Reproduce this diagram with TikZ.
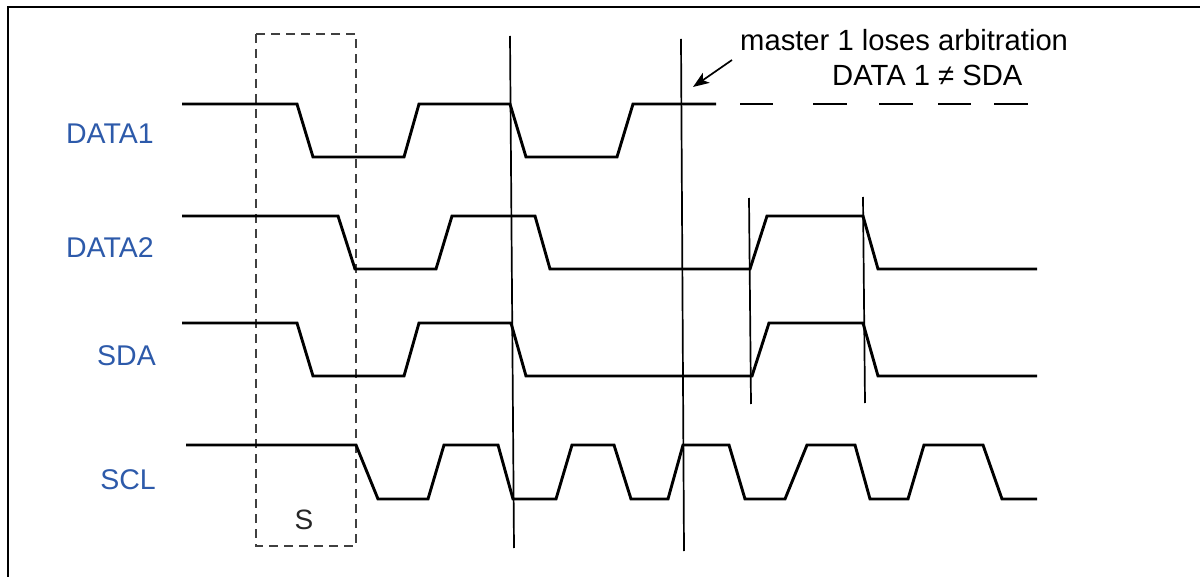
\documentclass[tikz,border=0pt]{standalone}
\usepackage{fontspec}
\setmainfont{Liberation Sans}
\usetikzlibrary{arrows.meta}
\definecolor{lblblue}{RGB}{45,90,170}
\begin{document}
\begin{tikzpicture}[x=1pt,y=-1pt,
  wave/.style={line width=2.9pt, line join=miter},
  marker/.style={line width=1.7pt},
  lbl/.style={text=lblblue, font=\fontsize{28.5}{33}\selectfont, anchor=base east, inner sep=0pt},
  note/.style={font=\fontsize{29.2}{34}\selectfont, inner sep=0pt, anchor=base west},
  sbox/.style={draw=black!75, line width=1.5pt, dash pattern=on 9pt off 6pt},
  frame/.style={line width=2.2pt}]
\useasboundingbox (0,0) rectangle (1200,577);
% frame
\draw[frame] (8,577) -- (8,7) -- (1200,7);
% signal labels
\node[lbl] (ld1) at (154,144) {DATA1};
\node[lbl] (ld2) at (154,258) {DATA2};
\node[lbl] (lsda) at (156,366) {SDA};
\node[lbl] (lscl) at (156,489) {SCL};
% start condition box
\draw[sbox] (256,34) rectangle (356,546);
\node[font=\fontsize{28}{33}\selectfont, inner sep=0pt, text=black!85] (s) at (304,520) {S};
% DATA1
\draw[wave] (182,104) -- (297,104) -- (313,157) -- (404,157) -- (419,104) -- (510,104)
  -- (526,157) -- (617,157) -- (633,104) -- (716,104);
\foreach \a/\b in {740/773, 813/847, 879/913, 938/971, 994/1028}
  \draw[wave] (\a,104) -- (\b,104);
% DATA2
\draw[wave] (182,216) -- (338,216) -- (355,269) -- (436,269) -- (452,216) -- (535,216)
  -- (550,269) -- (750,269) -- (767,216) -- (863,216) -- (878,269) -- (1037,269);
% SDA
\draw[wave] (182,323) -- (297,323) -- (313,376) -- (404,376) -- (419,323) -- (511,323)
  -- (526,376) -- (752,376) -- (769,323) -- (863,323) -- (878,376) -- (1037,376);
% SCL
\draw[wave] (186,445) -- (356,445) -- (378,499) -- (428,499) -- (444,445) -- (498,445)
  -- (513,499) -- (556,499) -- (572,445) -- (614,445) -- (631,499) -- (668,499)
  -- (683,445) -- (729,445) -- (745,499) -- (785,499) -- (807,445) -- (855,445)
  -- (870,499) -- (908,499) -- (924,445) -- (983,445) -- (1002,499) -- (1037,499);
% vertical markers
\draw[marker] (510,36) -- (514,548);
\draw[marker] (681,39) -- (684,551);
\draw[marker] (749,198) -- (751,404);
\draw[marker] (863,197) -- (865,403);
% annotation
\node[note] (n1) at (740,51) {master 1 loses arbitration};
\node[note] (n2) at (832,86) {DATA 1 ≠ SDA};
\coordinate (atail) at (732,60);
\coordinate (ahead) at (693,87);
\draw[marker, -{Stealth[length=16pt,width=12pt,inset=4pt]}] (atail) -- (ahead);
\end{tikzpicture}
\end{document}
